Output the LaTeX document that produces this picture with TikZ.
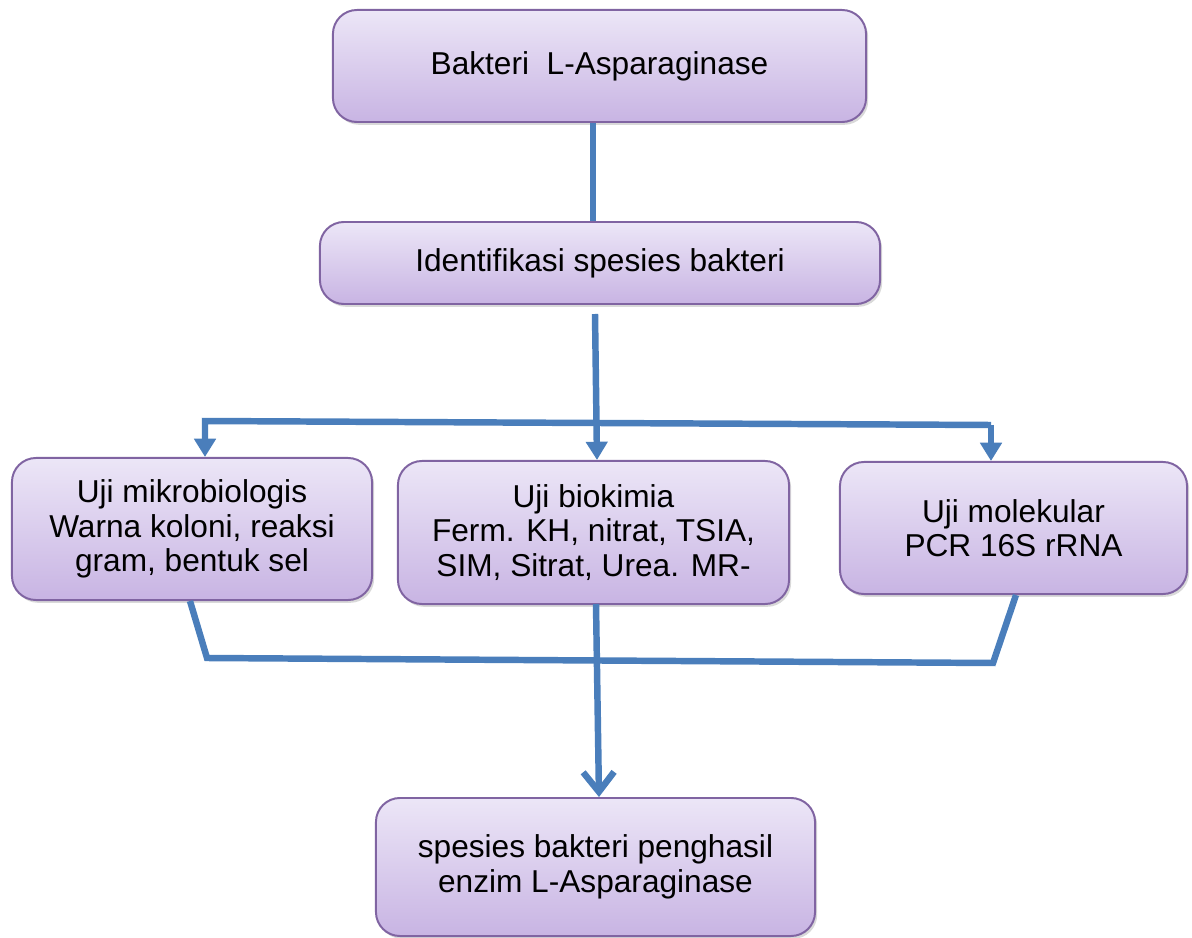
\documentclass[tikz,border=0pt]{standalone}
\usepackage{fontspec}
\setmainfont{Liberation Sans}
\usetikzlibrary{arrows.meta,shadows}
\definecolor{flowblue}{RGB}{74,126,187}
\definecolor{boxedge}{RGB}{128,100,162}
\definecolor{boxtop}{RGB}{236,230,247}
\definecolor{boxbottom}{RGB}{200,180,227}
\begin{document}
\begin{tikzpicture}[x=0.025cm,y=-0.025cm,
  box/.style={draw=boxedge, line width=1.4pt, rounded corners=0.6cm,
    top color=boxtop, bottom color=boxbottom, align=center,
    font=\fontsize{22.5}{24.6}\selectfont, inner sep=0pt,
    drop shadow={shadow xshift=1.5pt, shadow yshift=-2pt, opacity=0.3}},
  link/.style={draw=flowblue, line width=4.6pt},
  arrowtip/.style={-{Triangle[width=15pt,length=13pt]}},
  opentip/.style={-{Straight Barb[width=22pt,length=14pt,line width=4.6pt]}}]
\useasboundingbox (0,0) rectangle (1192,938);

% boxes
\node[box, minimum width=13.325cm, minimum height=2.8cm] (top) at (599.5,66) {\raisebox{-3pt}{Bakteri\ \ L-Asparaginase}};
\node[box, minimum width=14cm, minimum height=2.05cm] (ident) at (600,263) {Identifikasi spesies bakteri};
\node[box, minimum width=9cm, minimum height=3.55cm] (mikro) at (192,529) {Uji mikrobiologis\\Warna koloni, reaksi\\gram, bentuk sel};
\node[box, minimum width=9.775cm, minimum height=3.575cm] (bio) at (593.5,532.5) {Uji biokimia\\Ferm. KH, nitrat, TSIA,\\SIM, Sitrat, Urea. MR-};
\node[box, minimum width=8.675cm, minimum height=3.3cm] (mol) at (1013.5,528) {Uji molekular\\PCR 16S rRNA};
\node[box, minimum width=10.975cm, minimum height=3.45cm] (hasil) at (595.5,867) {spesies bakteri penghasil\\enzim L-Asparaginase};

% junction points of the connectors
\coordinate (idout) at (595,314);
\coordinate (splitL) at (205,421);
\coordinate (splitR) at (991,425);
\coordinate (mikroout) at (190,601);
\coordinate (joinL) at (207,658);
\coordinate (joinR) at (993,663);
\coordinate (molout) at (1016,595);
\coordinate (bioout) at (596,604);

% top box to identification
\draw[link] (top.south -| 593,0) -- (ident.north -| 593,0);

% identification branches into the three tests
\draw[link, arrowtip] (idout) -- (bio.north -| 597,0);
\draw[link, arrowtip] (splitR) -- (splitL) -- (mikro.north -| splitL);
\draw[link, arrowtip] (splitR) -- (mol.north -| splitR);

% the three tests join towards the result
\draw[link] (mikroout) -- (joinL) -- (joinR) -- (molout);
\draw[link, opentip] (bioout) -- (hasil.north -| 599,0);
\end{tikzpicture}
\end{document}
